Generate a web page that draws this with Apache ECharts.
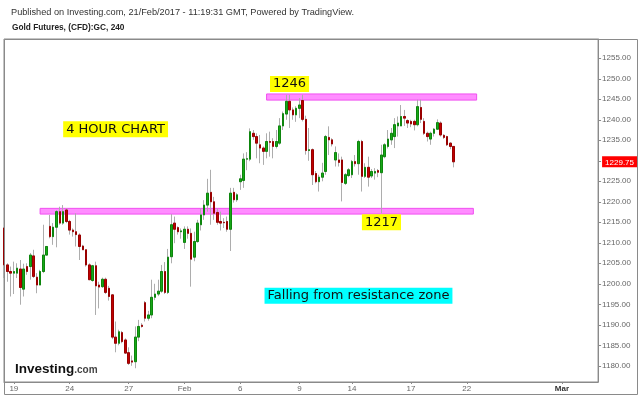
<!DOCTYPE html>
<html><head><meta charset="utf-8">
<script src="https://cdn.jsdelivr.net/npm/echarts@6/dist/echarts.min.js"></script>
<style>html,body{margin:0;padding:0;background:#fff}#c{width:640px;height:396px}</style>
</head><body><div id="c"></div>
<script>
// ---- data (4h candles, 19 Jan - 21 Feb 2017) ----
const opens = [1213.6,1204.6,1203.0,1202.6,1202.6,1203.6,1198.7,1204.2,1204.2,1206.8,
1201.6,1199.7,1203.0,1207.0,1214.0,1211.5,1213.8,1217.6,1214.8,1218.0,
1215.2,1213.1,1212.7,1211.9,1209.2,1208.3,1204.6,1200.8,1204.4,1199.7,
1199.3,1201.1,1198.9,1197.3,1187.0,1185.5,1188.1,1186.3,1183.2,1181.2,
1181.0,1187.0,1189.9,1195.4,1191.6,1192.4,1196.7,1197.5,1198.2,1203.0,
1197.9,1206.6,1214.8,1213.7,1212.7,1210.1,1213.3,1212.3,1206.5,1210.3,
1214.4,1216.8,1219.2,1222.3,1220.0,1217.4,1215.2,1215.0,1215.2,1213.3,
1222.3,1220.5,1224.9,1225.2,1230.4,1230.4,1236.7,1235.9,1233.9,1233.1,
1232.3,1234.7,1234.7,1233.5,1234.3,1238.5,1241.4,1244.5,1242.4,1241.2,
1242.8,1244.7,1240.1,1232.5,1232.7,1226.9,1224.9,1226.0,1227.4,1235.7,
1235.1,1230.2,1230.2,1230.2,1224.5,1226.4,1226.6,1229.8,1229.3,1234.7,
1226.2,1228.4,1226.3,1227.0,1227.6,1227.1,1231.0,1233.5,1235.1,1235.9,
1238.5,1238.5,1240.8,1239.8,1239.6,1239.6,1238.8,1243.0,1239.6,1236.7,
1235.3,1236.7,1237.7,1239.2,1236.2,1235.9,1234.3,1233.5];
const closes = [1204.6,1203.0,1202.6,1203.0,1203.8,1199.1,1203.6,1203.0,1207.0,1201.8,
1199.7,1203.0,1207.0,1209.1,1211.5,1213.8,1217.6,1214.8,1217.6,1215.2,
1213.1,1212.7,1212.0,1209.1,1208.3,1204.6,1201.0,1204.4,1199.5,1199.2,
1201.1,1197.9,1196.9,1187.0,1185.5,1188.3,1185.9,1183.1,1180.6,1180.9,
1187.0,1189.6,1189.6,1191.6,1192.4,1196.7,1197.5,1198.2,1203.0,1197.9,
1206.5,1214.4,1213.3,1212.7,1212.9,1213.3,1212.3,1206.0,1210.3,1214.8,
1216.8,1219.2,1222.1,1220.0,1217.2,1215.0,1214.8,1214.9,1213.3,1222.1,
1220.5,1221.7,1225.6,1230.4,1230.5,1237.1,1235.9,1234.3,1233.1,1232.3,
1234.7,1234.5,1233.5,1234.7,1238.5,1241.5,1244.5,1242.4,1241.2,1242.8,
1243.6,1240.1,1232.5,1232.7,1226.6,1224.9,1226.0,1227.0,1235.9,1235.1,
1234.1,1232.0,1229.6,1224.7,1226.6,1227.8,1229.8,1229.3,1234.7,1226.2,
1228.4,1226.0,1227.4,1227.4,1227.2,1231.4,1233.9,1235.3,1236.7,1238.8,
1239.2,1240.8,1240.4,1239.2,1239.0,1238.8,1243.2,1240.1,1236.7,1235.9,
1236.7,1237.7,1239.3,1236.3,1235.7,1233.9,1233.5,1229.75];
const lows = [1201.4,1200.5,1196.9,1197.5,1201.4,1194.9,1196.9,1202.2,1201.0,1201.4,
1197.7,1199.7,1202.6,1207.0,1211.1,1209.5,1208.9,1214.4,1214.4,1214.8,
1212.0,1211.5,1209.1,1205.8,1208.3,1204.2,1200.9,1200.5,1192.4,1194.0,
1199.0,1197.5,1195.9,1186.5,1183.3,1185.0,1185.5,1182.9,1180.2,1180.0,
1179.4,1186.0,1189.3,1190.8,1191.0,1191.6,1196.0,1197.0,1197.8,1197.5,
1197.5,1205.0,1209.9,1212.0,1211.0,1208.5,1211.0,1199.3,1205.5,1210.0,
1213.0,1215.6,1217.6,1214.4,1215.6,1214.4,1213.0,1213.6,1212.7,1208.0,
1219.8,1220.0,1222.9,1223.4,1227.7,1229.9,1235.1,1230.6,1229.4,1229.0,
1230.6,1231.0,1230.6,1233.0,1233.9,1237.5,1240.0,1238.0,1240.0,1239.5,
1240.4,1239.6,1231.5,1230.0,1224.1,1224.5,1222.5,1225.0,1226.6,1231.4,
1233.5,1228.6,1228.6,1220.1,1224.1,1226.0,1225.8,1228.6,1226.6,1222.5,
1225.8,1223.7,1225.8,1225.4,1226.0,1217.2,1230.6,1233.0,1233.9,1233.1,
1235.9,1238.5,1238.5,1238.0,1238.2,1237.4,1238.4,1239.2,1236.3,1234.7,
1233.9,1235.9,1237.5,1235.9,1235.3,1233.6,1232.8,1228.4];
const highs = [1213.8,1205.0,1204.2,1205.4,1205.0,1205.8,1204.9,1205.0,1207.5,1208.3,
1202.6,1203.4,1214.4,1209.2,1216.8,1214.8,1218.0,1218.8,1219.2,1218.4,
1215.6,1213.5,1217.2,1212.3,1209.5,1208.3,1205.0,1204.6,1205.4,1200.5,
1201.5,1201.5,1199.5,1197.5,1190.8,1188.8,1188.5,1186.7,1184.5,1182.5,
1189.6,1191.2,1190.4,1195.8,1193.4,1201.0,1200.0,1201.0,1204.6,1205.3,
1208.5,1217.0,1216.4,1214.0,1213.5,1214.0,1214.0,1213.5,1212.7,1215.6,
1218.4,1220.4,1225.6,1227.8,1221.2,1218.4,1217.6,1216.0,1216.4,1223.4,
1223.4,1222.1,1226.6,1231.8,1232.1,1237.9,1237.5,1236.7,1236.3,1233.5,
1236.7,1237.1,1235.5,1237.5,1240.4,1242.0,1246.1,1246.1,1243.0,1243.3,
1245.3,1246.1,1241.0,1238.0,1233.0,1227.5,1226.6,1229.5,1236.3,1238.4,
1235.5,1233.5,1231.8,1231.0,1227.0,1228.2,1230.2,1231.4,1235.1,1235.1,
1229.4,1231.0,1228.0,1228.2,1228.0,1233.9,1234.3,1237.5,1238.0,1240.4,
1240.8,1243.6,1242.4,1240.1,1240.0,1240.0,1244.9,1244.9,1240.4,1237.1,
1237.1,1238.0,1240.1,1239.6,1236.5,1236.1,1234.5,1233.5];

// x axis: candle slots (including empty future slots up to early March)
const SLOTS = 182;
const tickLabels = ['19','24','27','Feb','6','9','14','17','22','Mar'];
const tickSlots  = [3, 20, 38, 55, 72, 90, 106, 124, 141, 170];
// y axis price labels
const yTickValues = [1180,1185,1190,1195,1200,1205,1210,1215,1220,1225,1230,1235,1240,1245,1250,1255];
const lastPrice = 1229.75;
const yMin = 1176.05, yMax = 1259.7;
// resistance / support zones
const zoneNames = ['1246','1217'];
const zoneLow   = [1244.8, 1217.0];
const zoneHigh  = [1246.3, 1218.4];
const zoneFrom  = [80, 11];
const zoneTo    = [144, 143];
const zoneLabelSlot  = [87, 115];
const zoneLabelPrice = [1248.7, 1215.0];
// text notes
const noteTexts  = ['4 HOUR CHART', 'Falling from resistance zone'];
const noteSlot   = [34, 108];
const notePrice  = [1237.7, 1197.1];
const noteColors = ['#ffff00', '#00ffff'];

// ---- build ----
const slotNames = [];
const slotLabel = [];
for (let i = 0; i < SLOTS; i++) { slotNames.push(String(i)); slotLabel.push(''); }
tickSlots.forEach((s, j) => { slotLabel[s] = tickLabels[j]; });

const wickData = opens.map((o, i) => [o, closes[i], lows[i], highs[i]]);
const bodyData = opens.map((o, i) => [o, closes[i], Math.min(o, closes[i]), Math.max(o, closes[i])]);

const yLabelValues = yTickValues.filter(v => Math.abs(v - lastPrice) > 2.5).concat([lastPrice]);

const FONT = 'Liberation Sans';
const ANN = 'DejaVu Sans';

const markPoints = [];
zoneNames.forEach((n, j) => markPoints.push({
  name: n, coord: [zoneLabelSlot[j], zoneLabelPrice[j]],
  label: {backgroundColor: '#ffff00'}
}));
noteTexts.forEach((n, j) => markPoints.push({
  name: n, coord: [noteSlot[j], notePrice[j]],
  label: {backgroundColor: noteColors[j]}
}));

const chart = echarts.init(document.getElementById('c'), null, {renderer: 'canvas'});
chart.setOption({
  animation: false,
  backgroundColor: '#fff',
  textStyle: {fontFamily: FONT},
  title: [
    {text: 'Published on Investing.com, 21/Feb/2017 - 11:19:31 GMT, Powered by TradingView.',
     left: 11, top: 8, padding: 0,
     textStyle: {fontSize: 9.2, fontWeight: 'normal', color: '#333', fontFamily: FONT}},
    {text: 'Gold Futures, (CFD):GC, 240', left: 12, top: 24, padding: 0,
     textStyle: {fontSize: 8.3, fontWeight: 'bold', color: '#222', fontFamily: FONT}},
    {text: '{a|Investing}{b|.com}', left: 15, top: 362, padding: 0,
     textStyle: {rich: {
       a: {fontSize: 13.5, fontWeight: 'bold', color: '#111', fontFamily: FONT, verticalAlign: 'bottom'},
       b: {fontSize: 10, color: '#444', fontFamily: FONT, verticalAlign: 'bottom', padding: [0, 0, 1, 0]}
     }}}
  ],
  graphic: [{
    type: 'rect', silent: true, z: 100,
    shape: {x: 4.5, y: 39.5, width: 633, height: 355},
    style: {fill: 'none', stroke: '#8a8a8a', lineWidth: 1}
  }],
  grid: {left: 4, right: 38, top: 39, bottom: 14, show: true, borderColor: '#8a8a8a', borderWidth: 1, backgroundColor: '#fff'},
  xAxis: {
    type: 'category', data: slotNames, boundaryGap: false,
    axisLine: {show: true, lineStyle: {color: '#8a8a8a'}},
    axisTick: {show: true, length: 2, interval: (i) => slotLabel[i] !== '', lineStyle: {color: '#8a8a8a'}},
    axisLabel: {
      interval: (i) => slotLabel[i] !== '', margin: 3,
      formatter: (v, i) => slotLabel[i] === 'Mar' ? '{b|Mar}' : slotLabel[i],
      color: '#666', fontSize: 8, fontFamily: FONT,
      rich: {b: {fontWeight: 'bold', color: '#333', fontSize: 8, fontFamily: FONT}}
    },
    splitLine: {show: false}
  },
  yAxis: {
    type: 'value', position: 'right', min: yMin, max: yMax, scale: true,
    axisLine: {show: true, lineStyle: {color: '#8a8a8a'}},
    axisTick: {show: true, length: 3, customValues: yTickValues, lineStyle: {color: '#8a8a8a'}},
    axisLabel: {
      customValues: yLabelValues, margin: 4, color: '#666', fontSize: 8, fontFamily: FONT,
      formatter: (v) => Math.abs(v - lastPrice) < 0.001 ? '{last|' + v.toFixed(2) + '}' : v.toFixed(2),
      rich: {last: {backgroundColor: '#ff0000', color: '#fff', fontSize: 8, fontFamily: FONT, padding: [2, 3, 1, 3]}}
    },
    splitLine: {show: false}
  },
  series: [
    {
      type: 'line', data: [], z: 1, silent: true,
      markArea: {
        silent: true,
        itemStyle: {color: '#ff8cff', borderColor: '#f050f0', borderWidth: 1},
        data: zoneNames.map((n, j) => [{xAxis: zoneFrom[j], yAxis: zoneLow[j]}, {xAxis: zoneTo[j], yAxis: zoneHigh[j]}])
      }
    },
    {
      type: 'candlestick', name: 'wick', data: wickData, z: 3, barWidth: 2,
      itemStyle: {color: '#bcbcbc', color0: '#bcbcbc', borderColor: '#adadad', borderColor0: '#adadad', borderWidth: 1}
    },
    {
      type: 'candlestick', name: 'body', data: bodyData, z: 4, barWidth: 2,
      itemStyle: {color: '#17a817', color0: '#c00000', borderColor: '#0d850d', borderColor0: '#990000', borderWidth: 1}
    },
    {
      type: 'line', data: [], z: 10, silent: true,
      markPoint: {
        symbol: 'rect', symbolSize: 1, silent: true,
        itemStyle: {color: 'rgba(0,0,0,0)'},
        label: {show: true, position: 'inside', formatter: '{b}', color: '#111', fontSize: 13,
                fontFamily: ANN, padding: [2, 3, 1, 3]},
        data: markPoints
      }
    }
  ]
});
</script>
</body></html>
